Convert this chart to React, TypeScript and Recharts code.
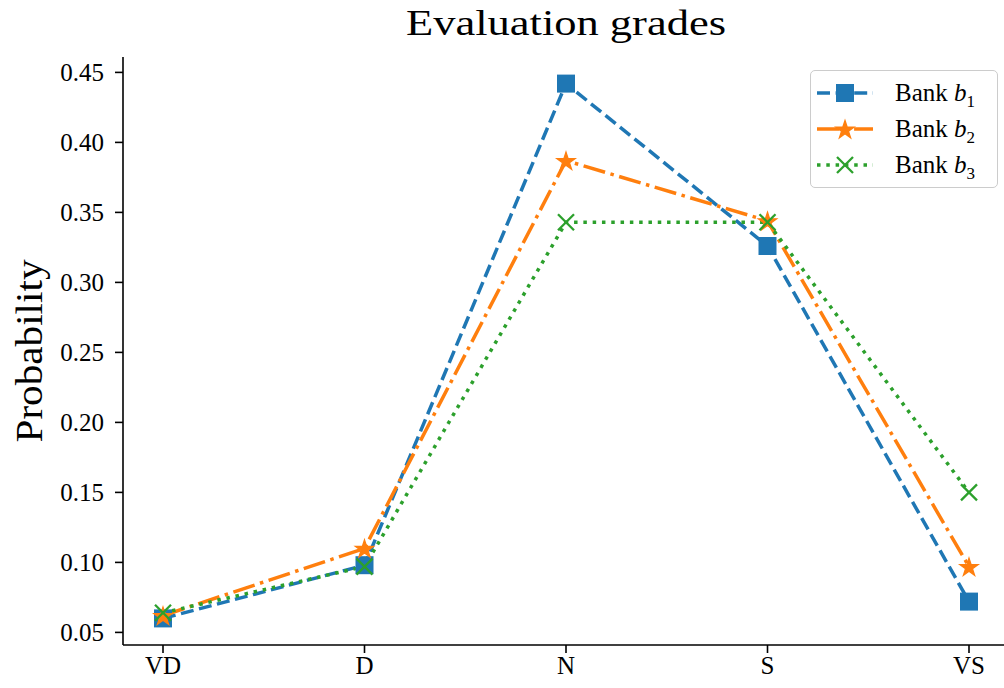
import React from 'react';
import { LineChart, Line, XAxis, YAxis, Legend } from 'recharts';

const grades = ['VD', 'D', 'N', 'S', 'VS'];
const bankB1 = [0.06, 0.098, 0.442, 0.326, 0.072];
const bankB2 = [0.062, 0.11, 0.387, 0.344, 0.097];
const bankB3 = [0.064, 0.097, 0.343, 0.343, 0.15];
const probTicks = [0.05, 0.1, 0.15, 0.2, 0.25, 0.3, 0.35, 0.4, 0.45];

const FONT = '"Liberation Serif", "Times New Roman", serif';

const data = grades.map((grade, i) => ({
  grade,
  b1: bankB1[i],
  b2: bankB2[i],
  b3: bankB3[i],
}));

const series = [
  { key: 'b1', sub: '1', color: '#1f77b4', dash: '13 5.6', marker: 'square' },
  { key: 'b2', sub: '2', color: '#ff7f0e', dash: '22.4 5.6 3.5 5.6', marker: 'star' },
  { key: 'b3', sub: '3', color: '#2ca02c', dash: '3.5 5.8', marker: 'x' },
];

function starPoints(cx: number, cy: number, r: number) {
  const pts: string[] = [];
  for (let k = 0; k < 10; k++) {
    const a = ((-90 + k * 36) * Math.PI) / 180;
    const rr = k % 2 === 0 ? r : r * 0.382;
    pts.push(`${cx + rr * Math.cos(a)},${cy + rr * Math.sin(a)}`);
  }
  return pts.join(' ');
}

function Marker({ kind, cx, cy, color }: { kind: string; cx: number; cy: number; color: string }) {
  if (kind === 'square') {
    return <rect x={cx - 9} y={cy - 9} width={18} height={18} fill={color} />;
  }
  if (kind === 'star') {
    return (
      <polygon
        points={starPoints(cx, cy + 1, 9.5)}
        fill={color}
        stroke={color}
        strokeWidth={1.3}
        strokeLinejoin="miter"
      />
    );
  }
  return (
    <g stroke={color} strokeWidth={2.3}>
      <line x1={cx - 8} y1={cy - 8} x2={cx + 8} y2={cy + 8} />
      <line x1={cx - 8} y1={cy + 8} x2={cx + 8} y2={cy - 8} />
    </g>
  );
}

function LegendBox() {
  return (
    <div
      style={{
        width: 188,
        boxSizing: 'border-box',
        border: '1.5px solid #cccccc',
        borderRadius: 5,
        background: 'rgba(255,255,255,0.8)',
        padding: '4px 0 4px 6px',
        fontFamily: FONT,
        fontSize: 25,
        color: '#000',
      }}
    >
      {series.map((s) => (
        <div key={s.key} style={{ display: 'flex', alignItems: 'center', height: 36 }}>
          <svg width={56} height={24}>
            <line x1={0} x2={56} y1={12} y2={12} stroke={s.color} strokeWidth={3.5} strokeDasharray={s.dash} />
            <Marker kind={s.marker} cx={28} cy={12} color={s.color} />
          </svg>
          <span style={{ marginLeft: 22, lineHeight: '26px', whiteSpace: 'nowrap' }}>
            Bank <i>b</i>
            <sub style={{ fontSize: 17, lineHeight: 0 }}>{s.sub}</sub>
          </span>
        </div>
      ))}
    </div>
  );
}

function YLabel(props: any) {
  const vb = props.viewBox;
  const x = vb.x + 29;
  const y = vb.y + vb.height / 2;
  return (
    <text
      x={x}
      y={y}
      transform={`rotate(-90, ${x}, ${y})`}
      textAnchor="middle"
      dominantBaseline="central"
      fontFamily={FONT}
      fontSize={37}
      textLength={183}
      lengthAdjust="spacingAndGlyphs"
      fill="#000"
    >
      Probability
    </text>
  );
}

export default function App() {
  const axisLine = { stroke: '#000', strokeWidth: 1.6 };
  const tickStyle = { fill: '#000', fontSize: 25, fontFamily: FONT };
  return (
    <div
      style={{
        position: 'absolute',
        left: 0,
        top: 0,
        width: 1004,
        height: 688,
        overflow: 'hidden',
        background: '#fff',
      }}
    >
      <svg width={1004} height={56} style={{ position: 'absolute', left: 0, top: 0 }}>
        <text
          x={566}
          y={35}
          textAnchor="middle"
          fontFamily={FONT}
          fontSize={35}
          textLength={320}
          lengthAdjust="spacingAndGlyphs"
          fill="#000"
        >
          Evaluation grades
        </text>
      </svg>
      <div style={{ position: 'absolute', left: 0, top: 0 }}>
        <LineChart width={1012} height={688} data={data} margin={{ top: 57, right: 3, bottom: 0, left: 0 }}>
          <XAxis
            dataKey="grade"
            padding={{ left: 40, right: 40 }}
            height={43}
            axisLine={axisLine}
            tickLine={axisLine}
            tickSize={8}
            tickMargin={3}
            tick={tickStyle}
          />
          <XAxis
            xAxisId="top"
            dataKey="grade"
            orientation="top"
            padding={{ left: 40, right: 40 }}
            height={0}
            axisLine={axisLine}
            tick={false}
            tickLine={false}
          />
          <YAxis
            type="number"
            domain={[0.041, 0.461]}
            ticks={probTicks}
            width={123}
            axisLine={axisLine}
            tickLine={axisLine}
            tickSize={8}
            tickMargin={11}
            tick={tickStyle}
            tickFormatter={(v: number) => v.toFixed(2)}
            allowDataOverflow
            label={{ content: YLabel }}
          />
          <Legend
            layout="vertical"
            align="center"
            verticalAlign="middle"
            content={() => <LegendBox />}
            wrapperStyle={{ position: 'absolute', top: 70, left: 810, width: 188, height: 118 }}
          />
          {series.map((s) => (
            <Line
              key={s.key}
              dataKey={s.key}
              type="linear"
              stroke={s.color}
              strokeWidth={3.5}
              strokeDasharray={s.dash}
              isAnimationActive={false}
              activeDot={false}
              dot={(p: any) => (
                <Marker key={`${s.key}-${p.index}`} kind={s.marker} cx={p.cx} cy={p.cy} color={s.color} />
              )}
            />
          ))}
        </LineChart>
      </div>
    </div>
  );
}
